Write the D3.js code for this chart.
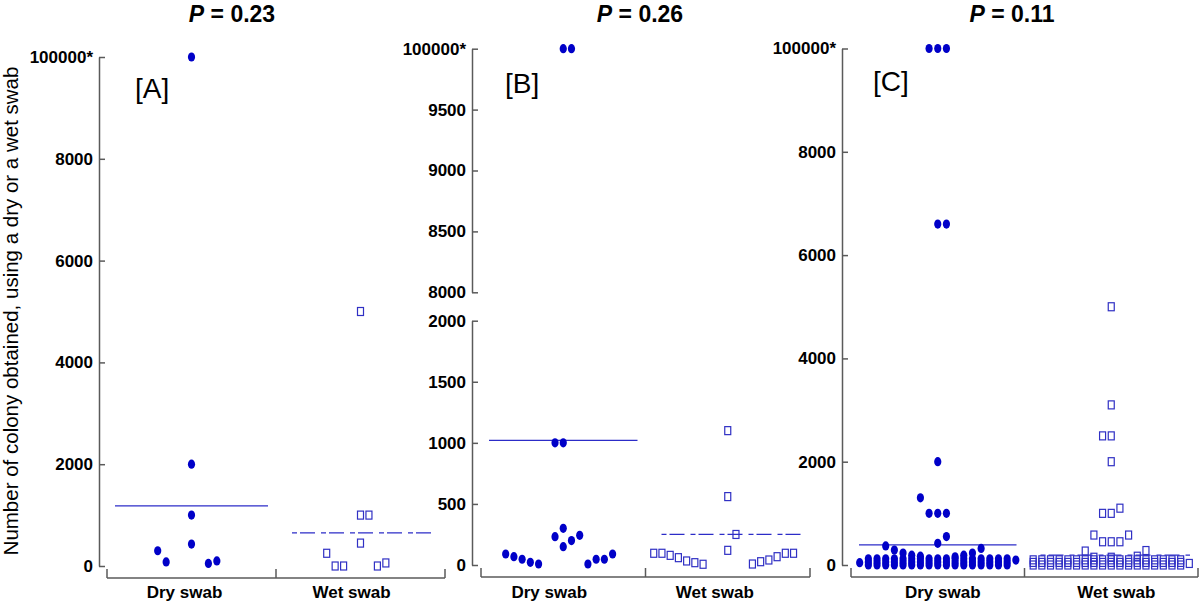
<!DOCTYPE html>
<html><head><meta charset="utf-8">
<script src="https://cdn.jsdelivr.net/npm/d3@7"></script>
<style>body{margin:0;background:#fff}</style>
</head><body><svg id="chart" width="1200" height="603"></svg>
<script>
// ---------- DATA ----------
const categories = ["Dry swab", "Wet swab"];
const pValues = ["0.23", "0.26", "0.11"];
const panelLabels = ["[A]", "[B]", "[C]"];
const yTitle = "Number of colony obtained, using a dry or a wet swab";
const ticksA = [0, 2000, 4000, 6000, 8000, 10000];
const ticksBLow = [0, 500, 1000, 1500, 2000];
const ticksBHigh = [8000, 8500, 9000, 9500, 10000];
const ticksC = [0, 2000, 4000, 6000, 8000, 10000];
const capValue = 100000;          // values shown at the top tick
const capLabel = "100000*";

// each point: [colony count, column slot in the dot plot]
const dryA = [[100000,0],[2000,0],[1000,0],[430,0],[300,-4],[80,-3],[50,2],[100,3]];
const wetA = [[5000,0],[1000,0],[1000,1],[450,0],[250,-4],[0,-3],[0,-2],[0,2],[60,3]];

const dryB = [[100000,0],[100000,1],[1000,-1],[1000,0],[90,-7],[68,-6],[47,-5],[22,-4],[8,-3],
  [232,-1],[300,0],[150,0],[200,1],[243,2],[8,3],[47,4],[47,5],[90,6]];
const wetB = [[96,-9],[96,-8],[79,-7],[60,-6],[33,-5],[19,-4],[6,-3],[1100,0],[560,0],[120,0],
  [250,1],[8,3],[27,4],[41,5],[68,6],[96,7],[96,8]];

const dryC = [[100000,-1],[100000,0],[100000,1],[6600,0],[6600,1],[2000,0],[1300,-2],
  [1000,-1],[1000,0],[1000,1],[550,1],[420,0],
  [45,-9],[95,9],
  [0,-8],[60,-8],[120,-8],[0,-7],[60,-7],[120,-7],[0,-6],[60,-6],[120,-6],[0,-5],[60,-5],[120,-5],
  [0,-4],[60,-4],[120,-4],[0,-3],[60,-3],[120,-3],[0,-2],[60,-2],[120,-2],[0,-1],[60,-1],[120,-1],
  [0,0],[60,0],[120,0],[0,1],[60,1],[120,1],[0,2],[60,2],[120,2],[0,3],[60,3],[120,3],
  [0,4],[60,4],[120,4],[0,5],[60,5],[120,5],[0,6],[60,6],[120,6],[0,7],[60,7],[120,7],[0,8],[60,8],[120,8],
  [370,-6],[290,-5],[230,-4],[190,-3],[170,-2],[160,2],[190,3],[230,4],[320,5]];
const wetC = [[5000,0],[3100,0],[2500,-1],[2500,0],[2000,0],[1000,-1],[1000,0],[1100,1],
  [580,-2],[450,-1],[450,0],[450,1],[580,2],[270,-3],[280,4],[170,3],[150,-2],[150,0],
  [30,9],
  [0,-9],[50,-9],[100,-9],[0,-8],[50,-8],[100,-8],[0,-7],[50,-7],[100,-7],[0,-6],[50,-6],[100,-6],
  [0,-5],[50,-5],[100,-5],[0,-4],[50,-4],[100,-4],[0,-3],[50,-3],[100,-3],[0,-2],[50,-2],[100,-2],
  [0,-1],[50,-1],[100,-1],[0,0],[50,0],[100,0],[0,1],[50,1],[100,1],[0,2],[50,2],[100,2],
  [0,3],[50,3],[100,3],[0,4],[50,4],[100,4],[0,5],[50,5],[100,5],[0,6],[50,6],[100,6],
  [0,7],[50,7],[100,7],[0,8],[50,8],[100,8]];

const meanDry = [1180, 1020, 390];
const meanWet = [650, 250, 190];

// ---------- LAYOUT ----------
const FONT = "'Liberation Sans', Arial, Helvetica, sans-serif";
const DOT = "#0000c8", SQ = "#3030c4", LINE = "#2c2cc8", AX = "#5a5a5a";
const panels = [
  {dry: dryA, wet: wetA, axisX: 99, x0: 107, x1: 445, xAxisY: 578, top: 57, bottom: 566,
   ticks: ticksA, titleX: 232, labelX: 135, labelY: 98, catOff: [-7, -9]},
  {dry: dryB, wet: wetB, axisX: 472, x0: 481, x1: 810, xAxisY: 577, broken: true,
   hiTop: 48.7, hiBottom: 292.3, loTop: 320.7, loBottom: 565,
   titleX: 640, labelX: 505, labelY: 93, catOff: [-14, -13]},
  {dry: dryC, wet: wetC, axisX: 842, x0: 851, x1: 1198, xAxisY: 577, top: 48.5, bottom: 565,
   ticks: ticksC, titleX: 1012, labelX: 873, labelY: 91, catOff: [5, 5]}
];

const svg = d3.select("#chart");
const fmt = v => v === 10000 ? capLabel : String(v);
const shown = v => v >= capValue ? 10000 : v;

function yAxis(g, scale, ticks, x) {
  const ax = d3.axisLeft(scale).tickValues(ticks).tickFormat(fmt)
    .tickSizeInner(-6).tickSizeOuter(0).tickPadding(6);
  const a = g.append("g").attr("transform", `translate(${x},0)`).call(ax);
  a.select(".domain").attr("stroke", AX).attr("stroke-width", 1.5);
  a.selectAll(".tick line").attr("stroke", AX).attr("stroke-width", 1.5);
  a.selectAll(".tick text").attr("font-family", FONT).attr("font-size", 17)
    .attr("font-weight", "bold").attr("fill", "#000");
}

panels.forEach((p, i) => {
  const g = svg.append("g");
  const x = d3.scaleBand().domain(categories).range([p.x0, p.x1]);
  const bw = x.bandwidth();
  const slot = d3.scaleLinear().domain([-10, 10]).range([0, bw]);
  let yPos;
  if (p.broken) {
    const lo = d3.scaleLinear().domain([0, 2000]).range([p.loBottom, p.loTop]);
    const hi = d3.scaleLinear().domain([8000, 10000]).range([p.hiBottom, p.hiTop]);
    yAxis(g, hi, ticksBHigh, p.axisX);
    yAxis(g, lo, ticksBLow, p.axisX);
    yPos = v => { const s = shown(v); return s > 4000 ? hi(s) : lo(s); };
  } else {
    const y = d3.scaleLinear().domain([0, 10000]).range([p.bottom, p.top]);
    yAxis(g, y, p.ticks, p.axisX);
    yPos = v => y(shown(v));
  }

  // x axis
  const xa = g.append("g");
  xa.append("line").attr("x1", p.x0).attr("x2", p.x1).attr("y1", p.xAxisY).attr("y2", p.xAxisY)
    .attr("stroke", AX).attr("stroke-width", 1.5);
  const edges = categories.map(c => x(c)).concat([x(categories[1]) + bw]);
  xa.selectAll("line.t").data(edges).join("line").attr("class", "t")
    .attr("x1", d => d).attr("x2", d => d).attr("y1", p.xAxisY - 9).attr("y2", p.xAxisY)
    .attr("stroke", AX).attr("stroke-width", 1.5);
  xa.selectAll("text").data(categories).join("text")
    .attr("x", (c, j) => x(c) + bw / 2 + p.catOff[j]).attr("y", 598)
    .attr("text-anchor", "middle").attr("font-family", FONT).attr("font-size", 17)
    .attr("font-weight", "bold").text(c => c);

  // mean lines
  g.append("line").attr("x1", x(categories[0]) + 8).attr("x2", x(categories[0]) + bw - 8)
    .attr("y1", yPos(meanDry[i])).attr("y2", yPos(meanDry[i]))
    .attr("stroke", LINE).attr("stroke-width", 1.2);
  g.append("line").attr("x1", x(categories[1]) + 16).attr("x2", x(categories[1]) + bw - 8)
    .attr("y1", yPos(meanWet[i])).attr("y2", yPos(meanWet[i]))
    .attr("stroke", LINE).attr("stroke-width", 1.2).attr("stroke-dasharray", "5,3,15,6");

  // dry points
  g.selectAll("ellipse").data(p.dry).join("ellipse")
    .attr("cx", d => x(categories[0]) + slot(d[1])).attr("cy", d => yPos(d[0]))
    .attr("rx", 3.6).attr("ry", 4.6).attr("fill", DOT);
  // wet points
  g.selectAll("rect").data(p.wet).join("rect")
    .attr("x", d => x(categories[1]) + slot(d[1]) - 3).attr("y", d => yPos(d[0]) - 4)
    .attr("width", 6).attr("height", 8).attr("fill", "none")
    .attr("stroke", SQ).attr("stroke-width", 1.2);

  // title
  const t = svg.append("text").attr("x", p.titleX).attr("y", 22).attr("text-anchor", "middle")
    .attr("font-family", FONT).attr("font-size", 23).attr("font-weight", "bold");
  t.append("tspan").attr("font-style", "italic").text("P");
  t.append("tspan").text(" = " + pValues[i]);
  svg.append("text").attr("x", p.labelX).attr("y", p.labelY).attr("font-family", FONT)
    .attr("font-size", 28).text(panelLabels[i]);
});

svg.append("text").attr("transform", "translate(17.5,311) rotate(-90)")
  .attr("text-anchor", "middle").attr("font-family", FONT).attr("font-size", 20.5)
  .text(yTitle);
</script></body></html>
